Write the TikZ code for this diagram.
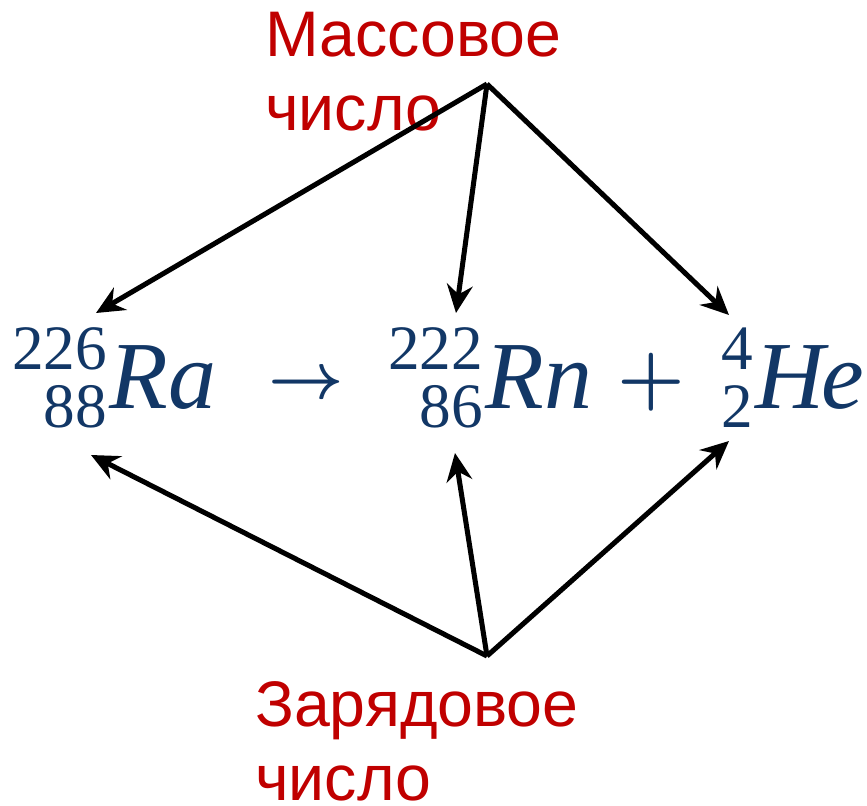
\documentclass[tikz,border=0pt]{standalone}
\usepackage{fix-cm}
\usepackage{amsmath}
\usepackage{fontspec}
\newfontfamily\labelfont{Liberation Sans}
\newfontfamily\eqfont{Liberation Serif}
\usetikzlibrary{arrows.meta,positioning}
\definecolor{labelred}{RGB}{192,0,0}
\definecolor{eqblue}{RGB}{18,55,102}
% mass number over charge number, then the symbol
\newcommand\nuclide[3]{%
  \raisebox{-17pt}{\fontsize{54}{47}\selectfont
    \begin{tabular}[b]{@{}r@{}}#1\\#2\end{tabular}}%
  \kern2pt\textit{#3}}

\begin{document}
\begin{tikzpicture}[x=0.03cm,y=-0.03cm,
  lbl/.style={inner sep=0pt,align=left,text=labelred,
    font=\labelfont\fontsize{55}{63}\selectfont},
  eq/.style={inner sep=0pt,anchor=base west,text=eqblue,
    font=\eqfont\fontsize{82}{90}\selectfont},
  sign/.style={eq,font=\fontsize{#1}{#1}\selectfont\boldmath},
  ptr/.style={line width=4.3pt,-{Stealth[length=24pt,width=22pt,inset=8pt]}}
]
\useasboundingbox (0,0) rectangle (867,805);

% labels
\node[lbl,anchor=north west] (mass) at (265,12) {Массовое\\число};
\node[lbl,anchor=north west] (charge) at (255,681) {Зарядовое\\число};

% reaction
\node[eq] (ra) at (12,408) {\nuclide{226}{88}{Ra}};
\node[sign=56] (to) at (268,398) {$\rightarrow$};
\node[eq] (rn) at (388,408) {\nuclide{222}{86}{Rn}};
\node[sign=66] (plus) at (617,401) {$+$};
\node[eq] (he) at (721,408) {\nuclide{4}{2}{H\kern-3pt e}};

% apexes and tips
\coordinate (mtop) at (487,84);
\coordinate (ztop) at (487,656);
\coordinate (raU) at (96,313);
\coordinate (rnU) at (456,313);
\coordinate (heU) at (729,315);
\coordinate (raD) at (91,455);
\coordinate (rnD) at (455,453);
\coordinate (heD) at (729,441);

\foreach \t in {raU,rnU,heU}
  \draw[ptr] (mtop) -- (\t);
\foreach \t in {raD,rnD,heD}
  \draw[ptr] (ztop) -- (\t);
\end{tikzpicture}
\end{document}
